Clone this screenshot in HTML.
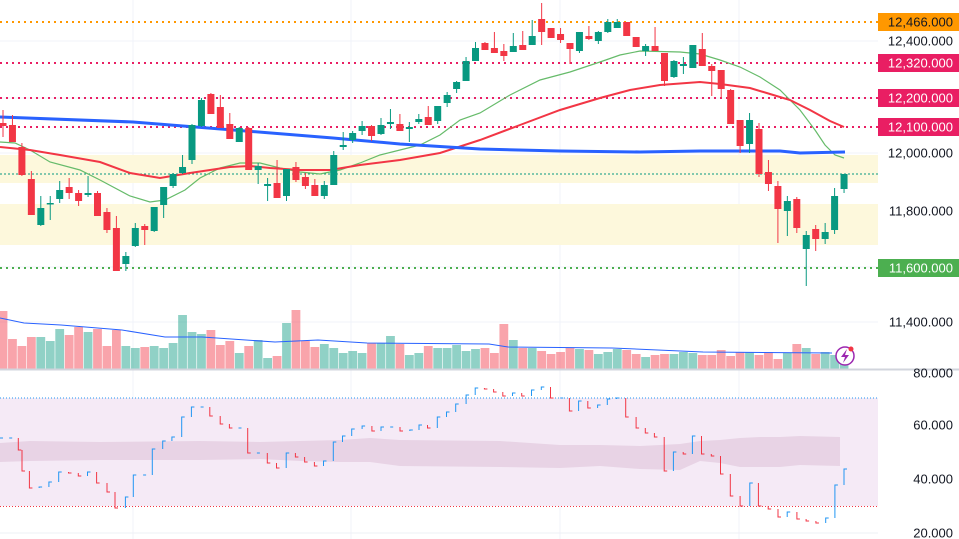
<!DOCTYPE html>
<html><head><meta charset="utf-8"><style>
html,body{margin:0;padding:0;background:#fff;width:959px;height:539px;overflow:hidden}
svg{display:block;font-family:"Liberation Sans",sans-serif}
</style></head><body>
<svg id="s" width="959" height="539" xmlns="http://www.w3.org/2000/svg"></svg>
<script>
const G='#089981',R='#f23645';
const C=[
[123,126,110,137,'r'],[125,142,115,142,'r'],[147,175,143,176,'r'],[179,215,171,215,'r'],[208,225,196,226,'g'],
[203,204,196,220,'g'],[190,199,181,203,'g'],[187,193,178,199,'r'],[193,201,190,206,'r'],[193,195,176,197,'g'],
[193,216,191,216,'r'],[212,230,208,233,'r'],[228,271,216,271,'r'],[256,264,252,271,'g'],[228,246,223,247,'g'],
[226,230,224,245,'r'],[207,231,207,232,'g'],[187,205,187,218,'g'],[174,186,173,188,'g'],[167,173,155,174,'g'],
[125,160,124,164,'g'],[100,126,98,127,'g'],[94,114,93,114,'r'],[107,128,95,128,'r'],[124,139,113,139,'r'],
[128,142,127,142,'g'],[128,170,127,170,'r'],[166,170,163,184,'g'],[184,186,178,201,'g'],[183,198,160,198,'r'],
[169,196,169,201,'g'],[167,180,162,182,'r'],[177,186,173,189,'r'],[185,196,179,196,'r'],[185,196,181,199,'g'],
[155,185,151,185,'g'],[145,147,132,150,'g'],[133,140,131,143,'g'],[126,131,121,135,'g'],[126,136,125,141,'r'],
[125,134,118,135,'g'],[122,124,109,129,'g'],[124,131,114,131,'r'],[127,129,122,142,'g'],[119,122,114,124,'g'],
[117,125,106,125,'r'],[106,121,106,124,'g'],[95,103,92,107,'g'],[82,89,81,93,'g'],[61,81,57,81,'g'],
[48,61,42,61,'g'],[43,50,42,50,'r'],[48,53,32,53,'r'],[51,56,44,61,'r'],[46,52,33,52,'g'],
[45,50,31,50,'r'],[36,45,20,45,'g'],[19,32,3,45,'r'],[28,38,28,38,'r'],[34,40,28,43,'r'],
[43,49,43,64,'r'],[32,51,32,53,'g'],[36,39,26,40,'r'],[32,41,31,44,'g'],[22,32,19,33,'g'],
[22,28,19,28,'g'],[22,36,22,36,'r'],[37,47,37,47,'r'],[46,51,44,56,'g'],[46,51,27,51,'r'],
[53,81,53,86,'r'],[61,77,60,78,'g'],[64,66,57,74,'g'],[45,68,45,68,'g'],[49,66,33,66,'r'],
[66,71,64,96,'r'],[70,89,70,98,'r'],[90,124,89,124,'r'],[120,146,120,153,'r'],[120,144,113,153,'g'],
[129,174,123,177,'r'],[172,184,160,191,'r'],[186,209,181,243,'r'],[201,211,196,236,'g'],[199,228,197,233,'r'],
[235,249,231,286,'g'],[229,239,225,251,'r'],[232,239,223,244,'g'],[196,230,188,234,'g'],[174,189,174,193,'g']];
const X=i=>3+i*9.45;
let h='';
[41,98,153,211,267,322].forEach(y=>h+=`<line x1="0" x2="878" y1="${y}" y2="${y}" stroke="#f0f3fa"/>`);
[133,351,560,739].forEach(x=>h+=`<line x1="${x}" x2="${x}" y1="0" y2="539" stroke="#f0f3fa"/>`);
[425,479,533].forEach(y=>h+=`<line x1="0" x2="878" y1="${y}" y2="${y}" stroke="#eef0f5"/>`);
h+=`<rect x="0" y="155" width="878" height="28" fill="#fdf8dc"/><rect x="0" y="204" width="878" height="41" fill="#fdf8dc"/>`;
[[22,'#ff9800'],[63,'#e91e63'],[98,'#e91e63'],[127,'#e91e63'],[268,'#4caf50']].forEach(([y,c])=>h+=`<line x1="0" x2="878" y1="${y}" y2="${y}" stroke="${c}" stroke-width="2" stroke-dasharray="2 4"/>`);
h+=`<line x1="0" x2="878" y1="174" y2="174" stroke="${G}" stroke-width="1" stroke-dasharray="2 2"/>`;
const P=a=>'M'+a.map(p=>p.join(',')).join(' L');
h+=`<path d="${P([[0,142],[15,143],[30,150],[50,162],[80,170],[100,180],[130,196],[150,202],[165,200],[185,190],[200,178],[220,168],[240,163],[260,163],[280,168],[300,172],[320,174],[340,170],[360,163],[380,155],[400,150],[420,145],[440,135],[460,120],[480,113],[510,95],[540,80],[570,72],[600,62],[620,55],[640,51],[680,52],[700,54],[720,60],[740,67],[760,77],[780,90],[800,110],[815,130],[825,145],[835,155],[844,158]])}" fill="none" stroke="#66bb6a" stroke-width="1.2"/>`;
h+=`<path d="${P([[0,147],[30,150],[60,155],[100,162],[130,173],[160,178],[190,173],[230,167],[250,166],[270,168],[300,170],[330,170],[360,165],[400,160],[440,153],[480,140],[520,125],[560,110],[600,98],[630,90],[660,85],[700,82],[720,84],[750,88],[770,94],[790,100],[810,110],[830,121],[844,127]])}" fill="none" stroke="#f23645" stroke-width="2"/>`;
h+=`<path d="${P([[0,117],[133,122],[333,138],[400,144],[480,149],[560,151],[640,152],[700,151],[780,151],[800,153],[845,152]])}" fill="none" stroke="#2962ff" stroke-width="3"/>`;
C.forEach((c,i)=>{const x=X(i),col=c[4]=='g'?G:R;
h+=`<line x1="${x}" x2="${x}" y1="${c[2]}" y2="${c[3]}" stroke="${col}"/>`;
h+=`<rect x="${x-3.5}" y="${c[0]}" width="7" height="${Math.max(1.5,c[1]-c[0])}" fill="${col}"/>`;});
const V=[311,339,346,337,337,341,329,335,327,332,329,346,330,346,348,347,346,348,343,315,332,334,330,345,341,353,346,340,358,356,323,310,341,347,344,348,353,351,353,343,343,336,344,355,353,346,348,348,345,351,349,348,353,324,340,348,348,351,354,352,348,349,350,354,352,349,350,354,357,355,354,354,352,353,355,355,350,356,352,352,355,352,359,353,344,348,354,352,355,360];
V.forEach((t,i)=>{const x=X(i),col=C[i][4]=='g'?'rgba(8,153,129,0.45)':'rgba(242,54,69,0.45)';h+=`<rect x="${x-4.4}" y="${t}" width="8.8" height="${369-t}" fill="${col}"/>`;});
h+=`<path d="${P([[0,318],[24,323],[61,325],[122,330],[165,337],[202,337],[275,342],[318,340],[367,343],[489,344],[508,347],[612,348],[703,352],[832,353]])}" fill="none" stroke="#2962ff" stroke-width="1"/>`;
h+=`<circle cx="845" cy="356" r="9" fill="#fff" stroke="#9c27b0" stroke-width="1.5"/><path d="M847,349 L841,357 L845,357 L843,363 L849,355 L845,355 Z" fill="#9c27b0"/><circle cx="851" cy="349" r="2.5" fill="#f23645"/>`;
h+=`<line x1="0" x2="959" y1="369.5" y2="369.5" stroke="#d1d4dc" stroke-width="2"/>`;
h+=`<rect x="0" y="398" width="878" height="108" fill="#f5eaf6"/>`;
h+=`<path d="${P([[0,443],[30,441],[100,442],[200,441],[260,442],[300,441],[340,440],[370,438],[400,440],[500,441],[560,445],[600,445],[640,446],[680,444],[700,441],[720,440],[740,438],[760,437],[780,437],[800,436],[840,437],[840,466],[800,465],[780,467],[760,467],[740,467],[720,463],[700,461],[680,470],[640,469],[600,466],[560,468],[500,467],[400,466],[370,462],[340,462],[300,461],[260,459],[200,460],[100,460],[30,461],[0,462]])} Z" fill="#e8d3e5"/>`;
h+=`<line x1="0" x2="878" y1="398" y2="398" stroke="#2196f3" stroke-dasharray="1 2"/><line x1="0" x2="878" y1="506.5" y2="506.5" stroke="#f23645" stroke-dasharray="1 2"/>`;
const RZ=[[0,438],[15,438],[30,450],[36,471],[48,488],[64,487],[80,482],[96,472],[112,473],[128,476],[143,472],[158,483],[175,492],[188,508],[205,497],[218,475],[234,475],[249,449],[266,441],[281,437],[297,417],[313,407],[328,407],[343,416],[360,424],[375,428],[390,428],[405,453],[420,453],[437,463],[452,468],[468,453],[483,457],[498,462],[514,466],[529,461],[545,442],[560,436],[575,429],[592,426],[608,431],[623,427],[638,427],[654,431],[670,430],[685,425],[699,428],[715,417],[730,412],[745,404],[762,395],[777,388],[792,389],[807,392],[822,396],[838,393],[853,396],[869,390],[885,387],[900,398],[916,398],[931,411],[946,401],[961,408],[977,405],[993,399],[1008,398],[1023,417],[1040,428],[1055,433],[1070,437],[1086,471],[1101,452],[1117,454],[1132,436],[1147,454],[1163,456],[1178,474],[1194,496],[1210,506],[1226,483],[1240,506],[1256,509],[1272,517],[1287,512],[1303,519],[1318,521],[1334,523],[1350,518],[1365,485],[1380,469]];
let py=RZ[0][1];
RZ.forEach(([zx,y])=>{const x=zx/1.635,col=y>py?R:'#2196f3';
h+=`<path d="M${x.toFixed(1)},${py} L${x.toFixed(1)},${y} L${(x+3).toFixed(1)},${y}" fill="none" stroke="${col}" stroke-width="1"/>`;py=y;});
h+=`<rect x="878" y="0" width="81" height="539" fill="#fff"/>`;
const T=(y,t,bg,fc)=>{if(bg)h+=`<rect x="878" y="${y-9}" width="81" height="18" fill="${bg}"/>`;h+=`<text x="953" y="${y+4.5}" text-anchor="end" font-size="13" fill="${fc||(bg?'#fff':'#131722')}">${t}</text>`;};
T(41,'12,400.000');T(153,'12,000.000');T(211,'11,800.000');T(322,'11,400.000');
T(22,'12,466.000','#ff9800','#131722');T(63,'12,320.000','#e91e63');T(98,'12,200.000','#e91e63');T(127,'12,100.000','#e91e63');T(268,'11,600.000','#4caf50');
h+=`<line x1="878" x2="959" y1="369.5" y2="369.5" stroke="#d1d4dc" stroke-width="2"/>`;
T(373,'80.000');T(425,'60.000');T(479,'40.000');T(533,'20.000');
document.getElementById('s').innerHTML=h;
</script>
</body></html>
